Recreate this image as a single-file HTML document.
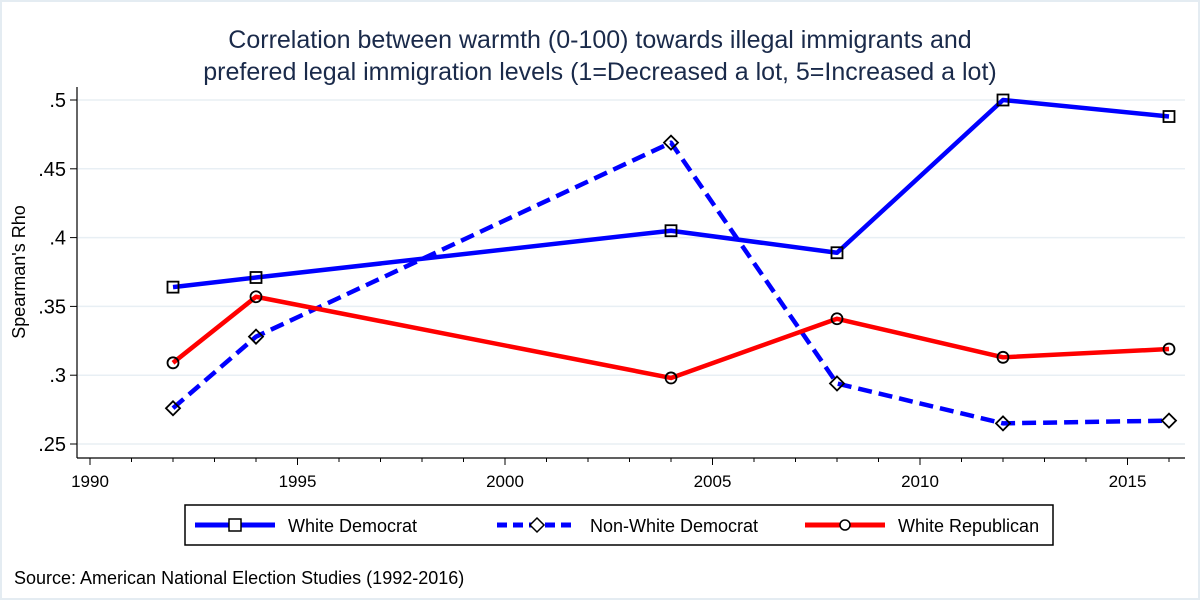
<!DOCTYPE html>
<html><head><meta charset="utf-8"><style>
body{margin:0;background:#fff;}
svg{display:block;font-family:"Liberation Sans",sans-serif;}
</style></head><body>
<svg id="chart" width="1200" height="600">
<rect x="0" y="0" width="1200" height="600" fill="#fff" stroke="#e4ecf2" stroke-width="4"/>
<text x="600" y="48" text-anchor="middle" font-size="25" fill="#1a2a4a">Correlation between warmth (0-100) towards illegal immigrants and</text>
<text x="600" y="80" text-anchor="middle" font-size="25" fill="#1a2a4a">prefered legal immigration levels (1=Decreased a lot, 5=Increased a lot)</text>
<text transform="translate(25,272) rotate(-90)" text-anchor="middle" font-size="18" fill="#000">Spearman's Rho</text>
<g id="grid"></g><g id="axes"></g><g id="series"></g>
<g>
<rect x="185" y="505" width="868" height="40" fill="#fff" stroke="#000" stroke-width="1.5"/>
<g>
<line x1="195" y1="525" x2="275" y2="525" stroke="#0000ff" stroke-width="5"/>
<rect x="229" y="519" width="12" height="12" fill="#fff" stroke="#000" stroke-width="1.5"/>
<text x="288" y="532" font-size="18">White Democrat</text></g>
<g>
<line x1="497" y1="525" x2="577" y2="525" stroke="#0000ff" stroke-width="5" stroke-dasharray="10,6"/>
<polygon points="537,518 544,525 537,532 530,525" fill="#fff" stroke="#000" stroke-width="1.5"/>
<text x="590" y="532" font-size="18">Non-White Democrat</text></g>
<g>
<line x1="805" y1="525" x2="885" y2="525" stroke="#ff0000" stroke-width="5"/>
<circle cx="845" cy="525" r="5" fill="#fff" stroke="#000" stroke-width="1.5"/>
<text x="898" y="532" font-size="18">White Republican</text></g>
</g>
<text x="14" y="584" font-size="18">Source: American National Election Studies (1992-2016)</text>
</svg>
<script>
const years=[1992,1994,2004,2008,2012,2016];
const whiteDem=[0.364,0.371,0.405,0.389,0.500,0.488];
const nonWhiteDem=[0.276,0.328,0.469,0.294,0.265,0.267];
const whiteRep=[0.309,0.357,0.298,0.341,0.313,0.319];
const yTicks=[0.25,0.3,0.35,0.4,0.45,0.5];
const yTickLabels=[".25",".3",".35",".4",".45",".5"];
const xTicks=[1990,1995,2000,2005,2010,2015];
const NS="http://www.w3.org/2000/svg";
const xs=v=>90+(v-1990)*41.5;
const ys=v=>444-(v-0.25)*(344/0.25);
function mk(t,a,p){const e=document.createElementNS(NS,t);for(const k in a)e.setAttribute(k,a[k]);p.appendChild(e);return e;}
const grid=document.getElementById('grid'),axes=document.getElementById('axes'),ser=document.getElementById('series');
yTicks.forEach((t,i)=>{
 const g=mk('line',{x1:78,x2:1185,y1:ys(t),y2:ys(t),stroke:'#e8eff4','stroke-width':1.5},grid);
 
 
 mk('line',{x1:70,x2:77,y1:ys(t),y2:ys(t),stroke:'#000','stroke-width':1},axes);
 const l=mk('text',{x:66,y:ys(t)+7,'text-anchor':'end','font-size':20},axes);
 l.textContent=yTickLabels[i];
 
 
});
const ya=mk('line',{x1:77,x2:77,y1:87,y2:458,stroke:'#000','stroke-width':1.2},axes);


const xa=mk('line',{x1:77,x2:1185,y1:458,y2:458,stroke:'#000','stroke-width':1.2},axes);


for(let y=1990;y<=2016;y++){
 const major=xTicks.includes(y);
 mk('line',{x1:xs(y),x2:xs(y),y1:458,y2:major?465:462,stroke:'#000','stroke-width':1},axes);
}
xTicks.forEach(t=>{
 const l=mk('text',{x:xs(t),y:487,'text-anchor':'middle','font-size':17},axes);
 l.textContent=t;
 
 
});
function series(vals,color,dash,marker,name){
 const pts=years.map((y,i)=>xs(y)+','+ys(vals[i])).join(' ');
 const pl=mk('polyline',{points:pts,fill:'none',stroke:color,'stroke-width':4.5,'stroke-linejoin':'round'},ser);
 if(dash)pl.setAttribute('stroke-dasharray',dash);
 
 
 years.forEach((y,i)=>{
  const cx=xs(y),cy=ys(vals[i]);let m;
  if(marker==='sq')m=mk('rect',{x:cx-5.5,y:cy-5.5,width:11,height:11,fill:'none',stroke:'#000','stroke-width':1.8},ser);
  else if(marker==='di')m=mk('polygon',{points:`${cx},${cy-7} ${cx+7},${cy} ${cx},${cy+7} ${cx-7},${cy}`,fill:'none',stroke:'#000','stroke-width':1.8},ser);
  else m=mk('circle',{cx:cx,cy:cy,r:5.5,fill:'none',stroke:'#000','stroke-width':1.8},ser);
  
  
 });
}
series(whiteDem,'#0000ff',null,'sq','white-democrat');
series(nonWhiteDem,'#0000ff','14,7','di','non-white-democrat');
series(whiteRep,'#ff0000',null,'ci','white-republican');
</script>
</body></html>
